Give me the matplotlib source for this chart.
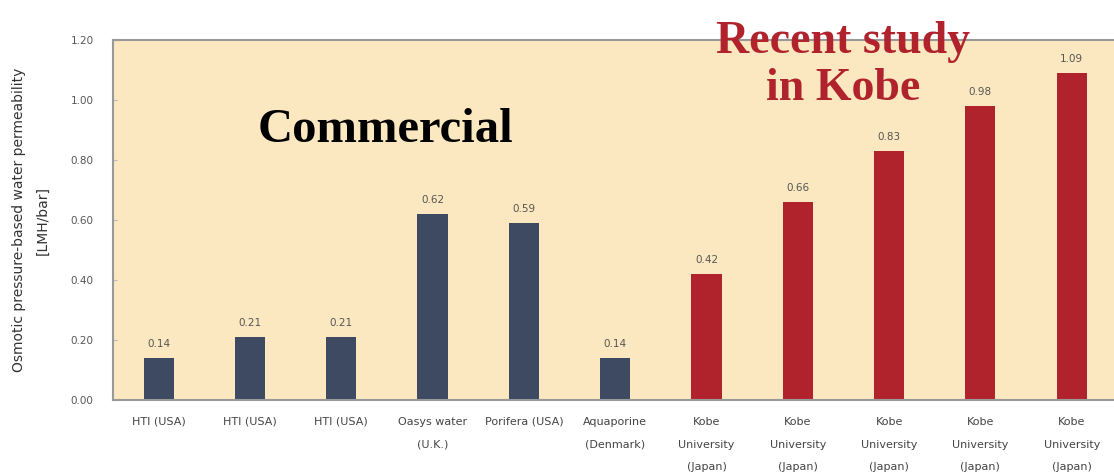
import matplotlib.pyplot as plt

# dati
categorie = ["HTI (USA)", "HTI (USA)", "HTI (USA)", "Oasys water\n(U.K.)",
             "Porifera (USA)", "Aquaporine\n(Denmark)",
             "Kobe\nUniversity\n(Japan)", "Kobe\nUniversity\n(Japan)",
             "Kobe\nUniversity\n(Japan)", "Kobe\nUniversity\n(Japan)",
             "Kobe\nUniversity\n(Japan)"]
valori = [0.14, 0.21, 0.21, 0.62, 0.59, 0.14, 0.42, 0.66, 0.83, 0.98, 1.09]
gruppo = ["c", "c", "c", "c", "c", "c", "k", "k", "k", "k", "k"]
yticks = [0.0, 0.2, 0.4, 0.6, 0.8, 1.0, 1.2]

BLU = "#3e4a62"
ROSSO = "#b1232c"
SFONDO = "#fbe8c0"

fig = plt.figure(figsize=(11.14, 4.74), dpi=100)
ax = fig.add_axes([0.1014, 0.156, 0.9016, 0.7596])
ax.set_facecolor(SFONDO)

x = list(range(len(valori)))
colori = [BLU if g == "c" else ROSSO for g in gruppo]
ax.bar(x, valori, width=0.33, color=colori, zorder=2)

for xi, v in zip(x, valori):
    ax.text(xi, v + 0.03, f"{v:.2f}", ha="center", va="bottom",
            fontsize=7.5, color="#555555")

ax.set_xlim(-0.5, len(valori) - 0.5)
ax.set_ylim(0, 1.2)
ax.set_yticks(yticks)
ax.set_yticklabels([f"{t:.2f}" for t in yticks], fontsize=7.5, color="#555555")
ax.set_xticks(x)
ax.set_xticklabels(categorie, fontsize=8, color="#444444", linespacing=2.6, va="top")
ax.tick_params(axis="x", length=0, pad=12)
ax.tick_params(axis="y", length=3, direction="in", color="#bbbbbb", pad=14)

for s in ax.spines.values():
    s.set_color("#999999")
    s.set_linewidth(1.5)

ax.set_ylabel("Osmotic pressure-based water permeability\n[LMH/bar]",
              fontsize=10, color="#333333", linespacing=1.9, labelpad=15)

ax.text(2.48, 0.9, "Commercial", ha="center", va="center", fontsize=35,
        fontweight="bold", family="Liberation Serif", color="black", zorder=3)
ax.text(7.5, 1.115, "Recent study\nin Kobe", ha="center", va="center", fontsize=33,
        fontweight="bold", family="Liberation Serif", color=ROSSO,
        linespacing=1.15, zorder=3, clip_on=False)

fig.savefig("out.png", dpi=100)
